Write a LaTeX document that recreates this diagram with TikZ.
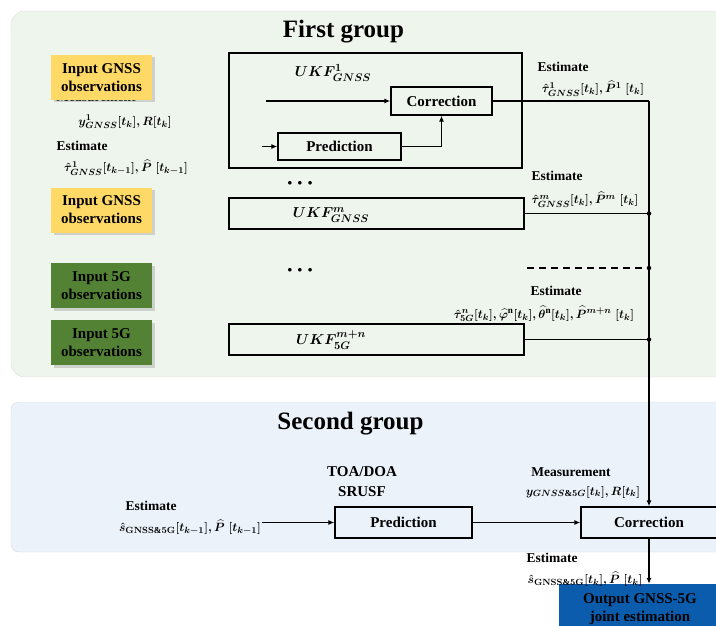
\documentclass[tikz,border=0pt]{standalone}
\usepackage{amsmath}
\usepackage{fontspec}
\setmainfont{Liberation Serif}
\usetikzlibrary{arrows.meta,shadows}
\definecolor{panelA}{HTML}{EEF5EC}
\definecolor{panelB}{HTML}{EBF2F9}
\definecolor{panelEdge}{HTML}{D8DCD8}
\definecolor{inYellow}{HTML}{FFD966}
\definecolor{inGreen}{HTML}{548235}
\definecolor{outBlue}{HTML}{0B5CAD}
\begin{document}
\begin{tikzpicture}[x=1pt,y=-1pt,
  box/.style={draw=black, line width=1.4pt, inner sep=0pt, font=\fontsize{15}{17}\selectfont\bfseries},
  inbox/.style={minimum width=101pt, minimum height=45pt, inner sep=0pt, align=center,
     font=\fontsize{15}{18}\selectfont\bfseries,
     drop shadow={opacity=0.3,shadow xshift=2.5pt,shadow yshift=-2.5pt}},
  lbl/.style={font=\fontsize{13.5}{15}\selectfont\bfseries, inner sep=0pt},
  mth/.style={font=\fontsize{13}{15}\selectfont\boldmath, inner sep=0pt},
  ukflbl/.style={font=\fontsize{15}{17}\selectfont\boldmath, inner sep=0pt},
  grptitle/.style={font=\fontsize{25}{28}\selectfont\bfseries, inner sep=0pt},
  dots/.style={font=\fontsize{9}{10}\selectfont, inner sep=0pt},
  conn/.style={line width=1.1pt},
  arr/.style={conn, -{Latex[length=6pt,width=5pt]}},
  jdot/.style={circle, fill=black, inner sep=0pt, minimum size=4.5pt}
]
\useasboundingbox (0,0) rectangle (716,626);
\clip (0,0) rectangle (716,626);

% panels
\draw[panelEdge, fill=panelA, rounded corners=14pt] (11,11) rectangle (740,377);
\draw[panelEdge, fill=panelB, rounded corners=8pt] (11,402) rectangle (740,552);

% titles
\node[grptitle] (t1) at (343.5,32) {First group};
\node[grptitle] (t2) at (350.5,424) {Second group};

% hidden measurement label (behind the yellow box)
\node[lbl] (meas0) at (96,97) {Measurement};

% inputs
\node[inbox, fill=inYellow] (in1) at (101.5,77.5) {Input GNSS\\observations};
\node[inbox, fill=inYellow] (in2) at (101.5,210) {Input GNSS\\observations};
\node[inbox, fill=inGreen] (in3) at (101.5,285.5) {Input 5G\\observations};
\node[inbox, fill=inGreen] (in4) at (101.5,342.5) {Input 5G\\observations};

% left labels
\node[mth] (m1) at (125,122) {$y^{1}_{GNSS}[t_k], R[t_k]$};
\node[lbl] (e1) at (82,145.5) {Estimate};
\node[mth] (e1m) at (126,168) {$\hat{\tau}^{1}_{GNSS}[t_{k-1}], \widehat{P}\;[t_{k-1}]$};

% UKF 1
\node[box, minimum width=293pt, minimum height=115pt] (ukf1) at (375.5,110.5) {};
\node[ukflbl] (ukf1l) at (333,73) {$UKF^{1}_{GNSS}$};
\node[box, minimum width=101pt, minimum height=28pt] (corr1) at (441.5,101) {Correction};
\node[box, minimum width=123pt, minimum height=27pt] (pred1) at (339.5,146.5) {Prediction};
\coordinate (c1) at (266,101);
\coordinate (c2) at (262,146.5);
\draw[arr] (c1) -- (corr1.west);
\draw[arr] (c2) -- (pred1.west);
\draw[arr] (pred1.east) -| (corr1.south);

% UKF m, m+n
\node[dots] (d1) at (300,183) {$\bullet\hspace{3.5pt}\bullet\hspace{3.5pt}\bullet$};
\node[box, minimum width=295pt, minimum height=31pt] (ukfm) at (376.5,213.5) {};
\node[ukflbl] (ukfml) at (331,215) {$UKF^{m}_{GNSS}$};
\node[dots] (d2) at (300,270) {$\bullet\hspace{3.5pt}\bullet\hspace{3.5pt}\bullet$};
\node[box, minimum width=295pt, minimum height=31pt] (ukfmn) at (376.5,339.5) {};
\node[ukflbl] (ukfmnl) at (331,340) {$UKF^{m+n}_{5G}$};

% right labels
\node[lbl] (eA) at (563,67) {Estimate};
\node[mth] (eAm) at (593,89) {$\hat{\tau}^{1}_{GNSS}[t_k], \widehat{P}^{1}\;[t_k]$};
\node[lbl] (eB) at (557,175.5) {Estimate};
\node[mth] (eBm) at (585,200) {$\hat{\tau}^{m}_{GNSS}[t_k], \widehat{P}^{m}\;[t_k]$};
\node[lbl] (eC) at (556,291) {Estimate};
\node[mth] (eCm) at (544,314) {$\hat{\tau}^{n}_{5G}[t_k], \widehat{\varphi}^{\mathrm{n}}[t_k], \widehat{\theta}^{\mathrm{n}}[t_k], \widehat{P}^{m+n}\;[t_k]$};

% junctions
\coordinate (jA) at (649,101);
\node[jdot] (j2) at (649,213.5) {};
\node[jdot] (j3) at (649,268) {};
\node[jdot] (j4) at (649,339.5) {};
\coordinate (ds) at (527,268);
\draw[conn] (corr1.east) -- (jA);
\draw[conn] (ukfm.east) -- (j2);
\draw[conn, dash pattern=on 7pt off 5pt] (ds) -- (j3);
\draw[conn] (ukfmn.east) -- (j4);

% second group
\node[font=\fontsize{15}{20}\selectfont\bfseries, align=center, inner sep=0pt] (toa) at (362,482) {TOA/DOA\\SRUSF};
\node[box, minimum width=137pt, minimum height=31pt] (pred2) at (403.5,522.5) {Prediction};
\node[box, minimum width=136pt, minimum height=31pt] (corr2) at (649,522.5) {Correction};
\node[lbl] (e2) at (151,506) {Estimate};
\node[mth] (e2m) at (190,527) {$\hat{s}_{\mathbf{GNSS\&5G}}[t_{k-1}], \widehat{P}\;[t_{k-1}]$};
\coordinate (e2c) at (262,522.5);
\draw[arr] (e2c) -- (pred2.west);
\draw[arr] (pred2.east) -- (corr2.west);
\node[lbl] (ms2) at (571,472) {Measurement};
\node[mth] (ms2m) at (583,492) {$y_{GNSS\&5G}[t_k], R[t_k]$};
\draw[arr] (jA) -- (corr2.north);

% output
\node[fill=outBlue, minimum width=162pt, minimum height=50pt, inner sep=0pt, align=center,
  font=\fontsize{15}{18}\selectfont\bfseries] (out) at (640,609) {Output GNSS-5G\\joint estimation};
\node[lbl] (e3) at (552,558) {Estimate};
\node[mth] (e3m) at (585,579) {$\hat{s}_{\mathbf{GNSS\&5G}}[t_k], \widehat{P}\;[t_k]$};
\draw[arr] (corr2.south) -- (corr2.south |- out.north);
\end{tikzpicture}
\end{document}
